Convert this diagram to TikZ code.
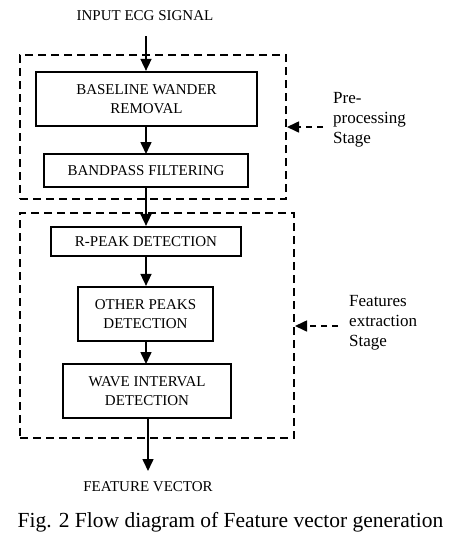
\documentclass[tikz,border=0pt]{standalone}
\usepackage{fontspec}
\setmainfont{Liberation Serif}
\usetikzlibrary{arrows.meta}
\begin{document}
\begin{tikzpicture}[x=1pt,y=-1pt,
  procbox/.style={draw,line width=2.2pt,align=center,inner sep=0pt,
    font=\fontsize{15}{19}\selectfont},
  stagebox/.style={draw,line width=2pt,dash pattern=on 8pt off 5pt,inner sep=0pt},
  flow/.style={line width=1.6pt,-{Triangle[width=11pt,length=12pt]}},
  dflow/.style={line width=1.6pt,dash pattern=on 6pt off 5pt,-{Triangle[width=11pt,length=12pt]}},
  plain/.style={font=\fontsize{15}{19}\selectfont,inner sep=0pt},
  lab/.style={font=\fontsize{17}{20}\selectfont,align=left,inner sep=0pt,anchor=west}]
\useasboundingbox (0,0) rectangle (453,541);
\node[stagebox,minimum width=266pt,minimum height=144pt] (s1) at (153,127) {};
\node[stagebox,minimum width=274pt,minimum height=225pt] (s2) at (157,325.5) {};
\node[plain] (in) at (145,16) {INPUT ECG SIGNAL};
\node[procbox,minimum width=221pt,minimum height=54pt] (b1) at (146.5,99) {BASELINE WANDER\\REMOVAL};
\node[procbox,minimum width=204pt,minimum height=33pt] (b2) at (146,170.5) {BANDPASS FILTERING};
\node[procbox,minimum width=190pt,minimum height=29pt] (b3) at (146,241.5) {R-PEAK DETECTION};
\node[procbox,minimum width=135pt,minimum height=54pt] (b4) at (145.5,314) {OTHER PEAKS\\DETECTION};
\node[procbox,minimum width=168pt,minimum height=54pt] (b5) at (147,391) {WAVE INTERVAL\\DETECTION};
\node[plain] (out) at (148,487) {FEATURE VECTOR};
\node[inner sep=0pt,font=\fontsize{21.5}{26}\selectfont] (cap) at (230.5,522) {Fig. 2 Flow diagram of Feature vector generation};
\node[lab] (l1) at (333,120) {Pre-\\processing\\Stage};
\node[lab] (l2) at (349,323) {Features\\extraction\\Stage};
\coordinate (c0) at (146,36);
\coordinate (c6) at (148,471);
\coordinate (p1) at (323,127);
\coordinate (p2) at (338,326);
\draw[flow] (c0) -- (c0 |- b1.north);
\draw[flow] (146,126) -- (146,154);
\draw[flow] (b2.south) -- (b3.north);
\draw[flow] (b3.south) -- (b3.south |- b4.north);
\draw[flow] (146,341) -- (146,364);
\draw[flow] (c6 |- b5.south) -- (c6);
\draw[dflow] (p1) -- (s1.east |- p1);
\draw[dflow] (p2) -- (s2.east |- p2);
\end{tikzpicture}
\end{document}
